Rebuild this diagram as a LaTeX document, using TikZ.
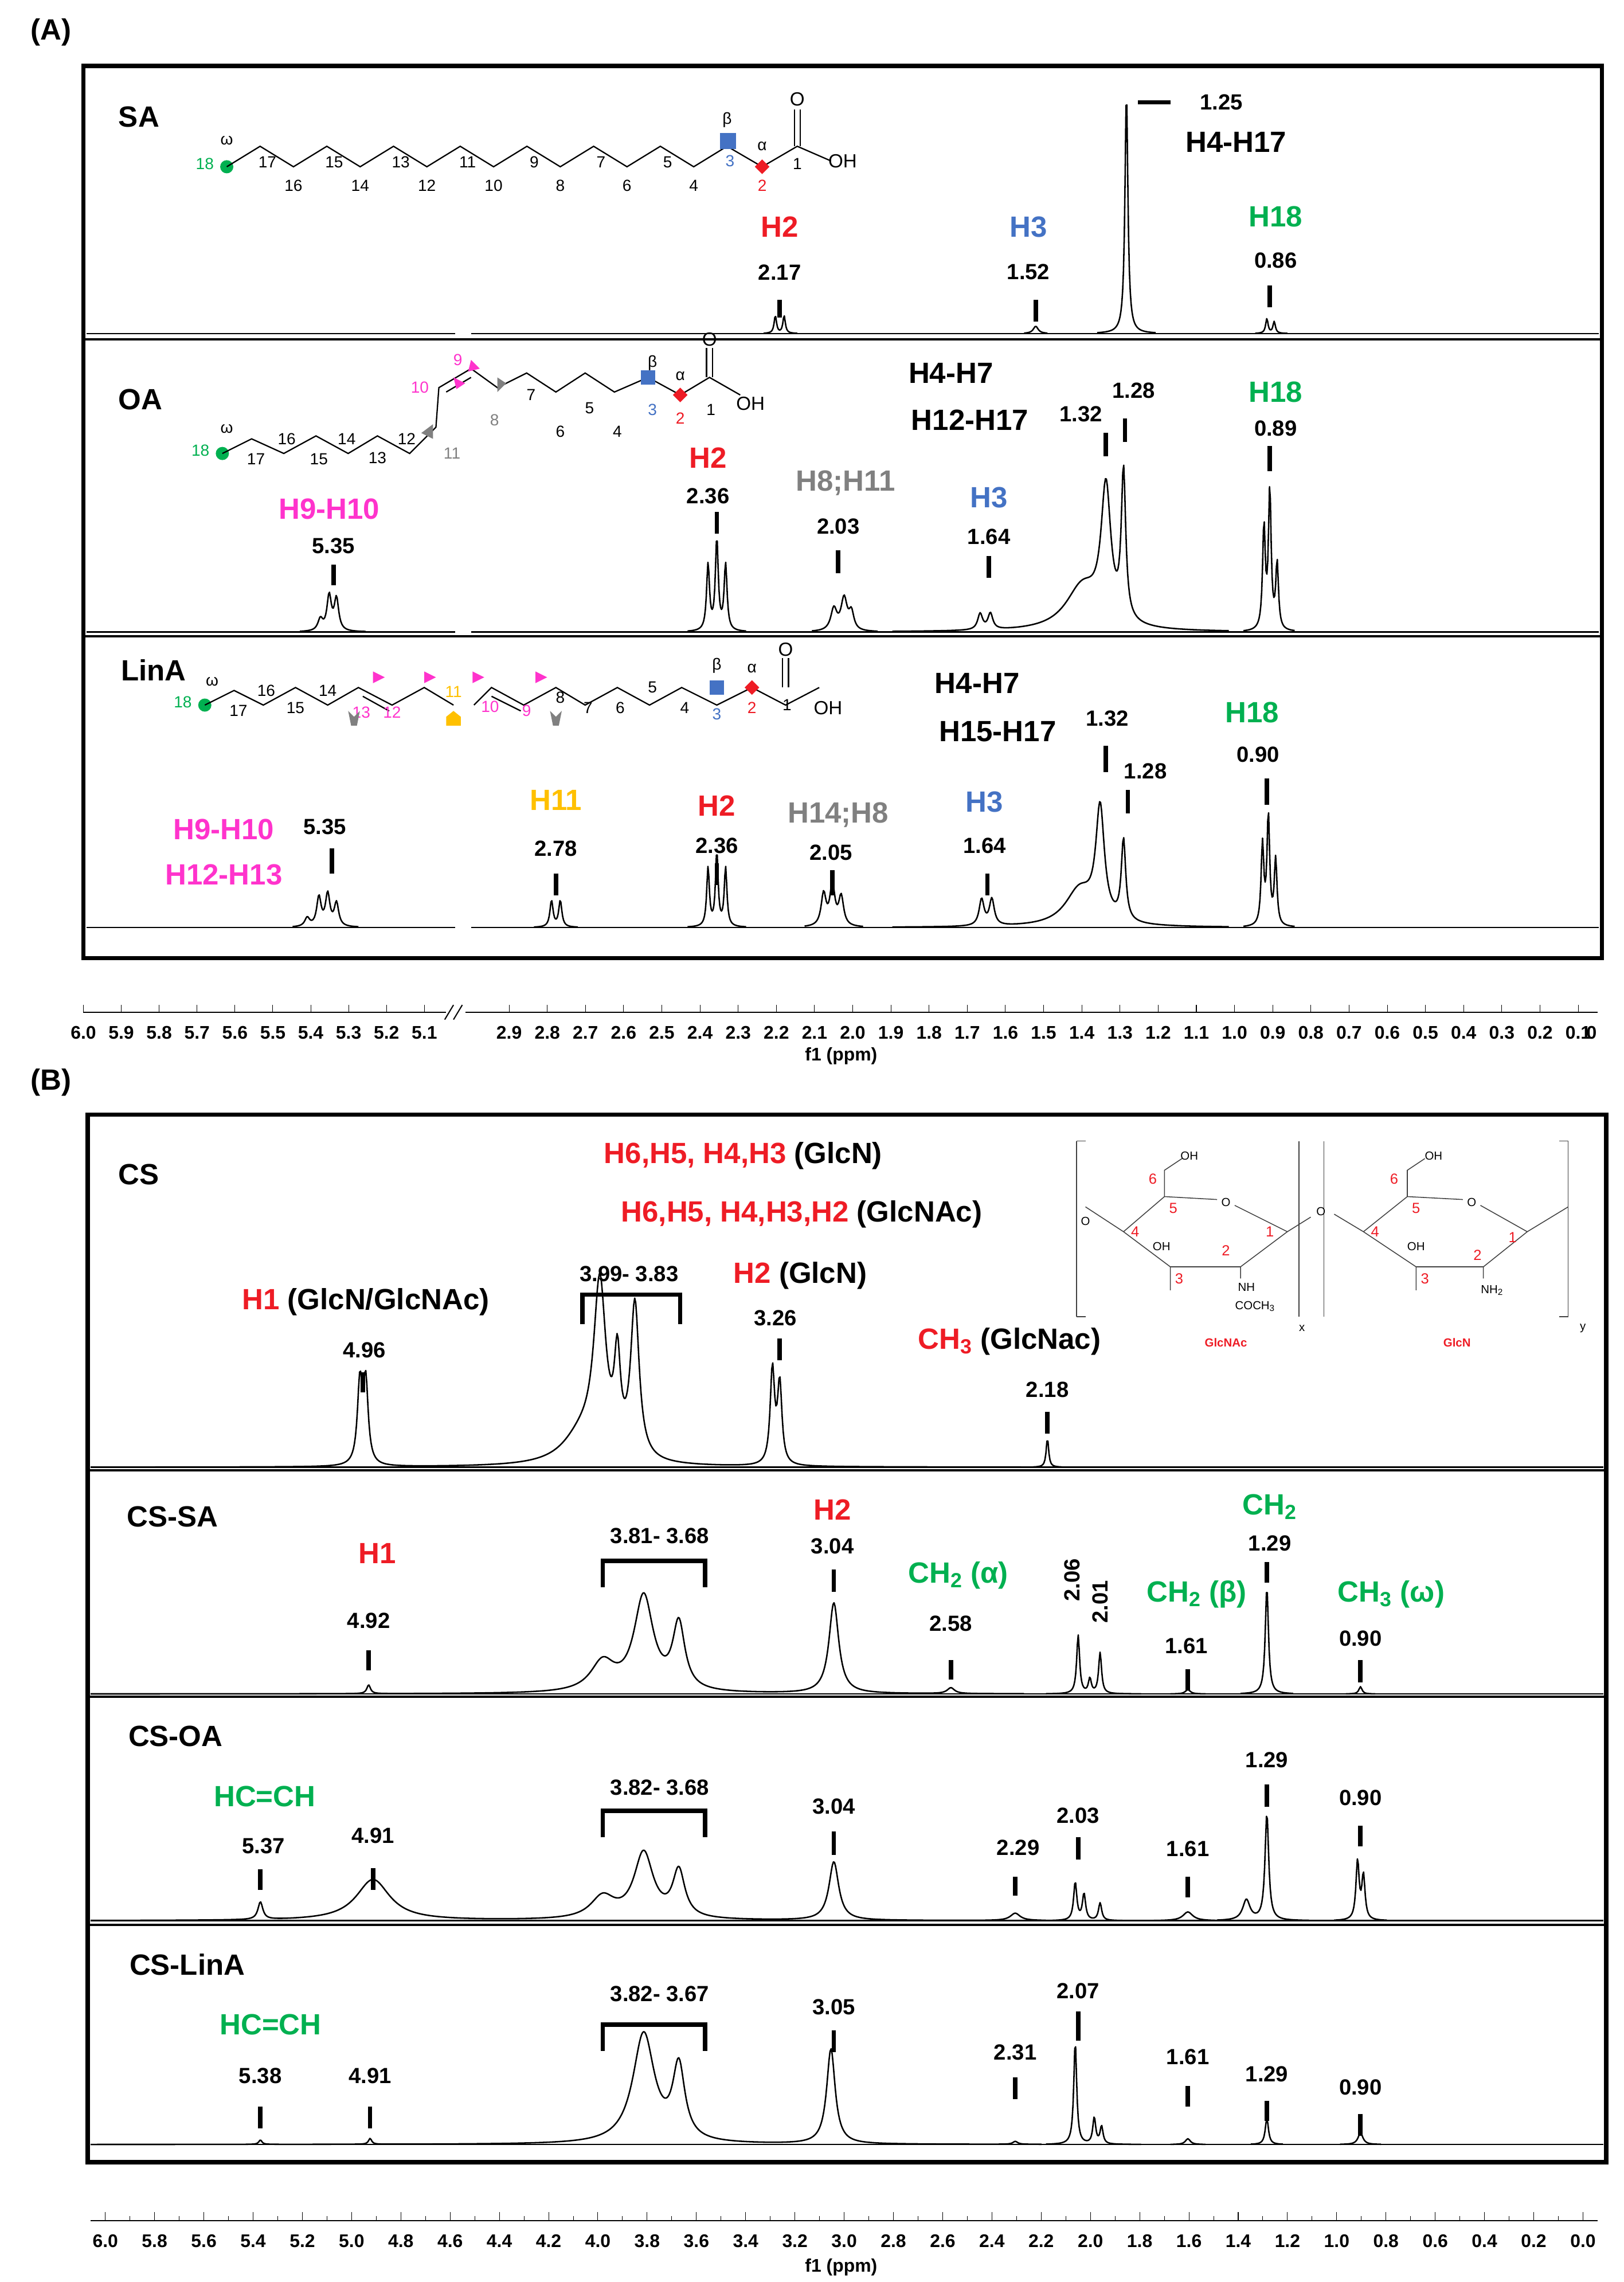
\documentclass[tikz,border=0pt]{standalone}
\usepackage{fontspec}
\setmainfont{Liberation Sans}
\definecolor{cR}{HTML}{EE1C25}
\definecolor{cB}{HTML}{4472C4}
\definecolor{cG}{HTML}{00B050}
\definecolor{cM}{HTML}{FF33CC}
\definecolor{cY}{HTML}{FFC000}
\definecolor{cK}{HTML}{808080}
\newcounter{nn}
\newcommand\T[3][]{\stepcounter{nn}\node[#1] (t\thenn) at (#2) {#3};}
\newcommand\tk[3]{\stepcounter{nn}\coordinate (a\thenn) at (#1,#2);\coordinate (b\thenn) at (#1,#3);\draw[tick] (a\thenn) -- (b\thenn);}
\newcommand\Lz[3]{-#3*(#2/10)*(#2/10)/((#2/10)*(#2/10)+((\x-#1)/10)*((\x-#1)/10))}
\newcommand\cl[4]{\draw[spec] plot[domain=#1:#2,samples=#3] (\x,{\bs #4});}
\begin{document}
\begin{tikzpicture}[x=1pt,y=-1pt,
 big/.style={font=\fontsize{20}{22}\selectfont\bfseries},
 num/.style={font=\fontsize{15}{17}\selectfont\bfseries},
 ax/.style={font=\fontsize{12.5}{14}\selectfont\bfseries},
 mol/.style={font=\fontsize{11}{12}\selectfont,inner sep=0.5pt},
 tick/.style={line width=3pt},
 spec/.style={line width=1pt,line join=round},
 box/.style={line width=3pt},
 chain/.style={line width=0.9pt}]
\useasboundingbox (0,0) rectangle (1110,1560);
% ---------- Panel A
\T[big]{35,22}{(A)}
\draw[box] (57,45) rectangle (1095,655);
\draw[line width=1.5pt] (57,232) -- (1095,232) (57,435) -- (1095,435);
% spectra A
\def\bs{228}
\draw[spec] (59,\bs) -- (311,\bs) (322,\bs) -- (1093,\bs);
\cl{750}{790}{70}{\Lz{770}{1.2}{165}}
\cl{522}{545}{40}{\Lz{530}{1}{12}\Lz{536}{1}{12}}
\cl{700}{716}{20}{\Lz{708}{2}{5}}
\cl{858}{880}{40}{\Lz{866}{1}{10}\Lz{871}{1}{8}}
\def\bs{432}
\draw[spec] (59,\bs) -- (311,\bs) (322,\bs) -- (1093,\bs);
\cl{205}{250}{70}{\Lz{219}{2}{8}\Lz{225}{1.8}{24}\Lz{230}{1.8}{22}}
\cl{470}{510}{70}{\Lz{484}{1.2}{45}\Lz{490}{1.2}{62}\Lz{496}{1.2}{45}}
\cl{555}{600}{70}{\Lz{570}{2.5}{15}\Lz{577}{2.5}{22}\Lz{582}{2}{12}}
\cl{610}{840}{350}{\Lz{670}{2}{11}\Lz{677}{2}{11}\Lz{740}{14}{30}\Lz{756}{4}{90}\Lz{768}{1.8}{100}}
\cl{850}{885}{60}{\Lz{864}{1.1}{70}\Lz{868}{1.1}{95}\Lz{873}{1.1}{45}}
\def\bs{634}
\draw[spec] (59,\bs) -- (311,\bs) (322,\bs) -- (1093,\bs);
\cl{200}{245}{70}{\Lz{210}{2}{6}\Lz{218}{1.8}{20}\Lz{224}{1.8}{22}\Lz{230}{1.8}{16}}
\cl{365}{395}{50}{\Lz{377}{1.3}{18}\Lz{383}{1.3}{18}}
\cl{470}{510}{70}{\Lz{484}{1.1}{40}\Lz{490}{1.1}{50}\Lz{496}{1.1}{40}}
\cl{550}{590}{60}{\Lz{563}{2}{22}\Lz{569}{2}{28}\Lz{575}{2}{20}}
\cl{610}{840}{350}{\Lz{671}{2}{18}\Lz{678}{2}{18}\Lz{738}{12}{25}\Lz{752}{3.5}{75}\Lz{768}{1.8}{55}}
\cl{850}{885}{60}{\Lz{863}{1.1}{55}\Lz{867}{1.1}{75}\Lz{872}{1.1}{45}}
% SA molecule
\fill[cG] (155,114) circle (4.5);
\T[mol,text=cG]{140,112}{18}
\T[mol]{155,96}{ω}
\draw[chain] (155,114) \foreach \i in {17,...,3}{ -- ({155+(18-\i)*22.8},{107+7*cos(180*\i)})} -- (521,114) -- (545,100) -- (568,110);
\draw[chain] (543,100) -- (543,75) (547,100) -- (547,75);
\T[mol,font=\fontsize{13}{14}\selectfont]{545,68}{O}
\T[mol,font=\fontsize{13}{14}\selectfont]{576,110}{OH}
\foreach \i in {17,15,...,5}{\T[mol]{{155+(18-\i)*22.8+5},111}{\i}}
\foreach \i in {16,14,...,4}{\T[mol]{{155+(18-\i)*22.8},127}{\i}}
\fill[cB] (492,91) rectangle (503,102);
\T[mol,text=cB]{499,110}{3}
\T[mol]{497,82}{β}
\fill[cR] (521,109) -- (526,114) -- (521,119) -- (516,114) -- cycle;
\T[mol,text=cR]{521,127}{2}
\T[mol]{521,100}{α}
\T[mol]{545,112}{1}
\T[big]{95,80}{SA}
\draw[line width=2.5pt] (778,70) -- (800,70);
\T[num]{835,70}{1.25}
\T[big]{845,97}{H4-H17}
\T[big,text=cR]{533,155}{H2}\T[num]{533,186}{2.17}\tk{533}{205}{217}
\T[big,text=cB]{703,155}{H3}\T[num]{703,186}{1.52}\tk{708}{205}{220}
\T[big,text=cG]{872,148}{H18}\T[num]{872,178}{0.86}\tk{868}{195}{210}
% OA molecule
\fill[cG] (152,310) circle (4.5);
\T[mol,text=cG]{137,308}{18}\T[mol]{155,293}{ω}
\draw[chain] (152,310) -- (172,300) -- (194,310) -- (216,298) -- (238,310) -- (258,298) -- (280,310) -- (298,292) -- (300,265) -- (322,252) -- (340,265) -- (360,255) -- (380,268) -- (400,255) -- (420,268) -- (443,258) -- (465,270) -- (485,258) -- (506,270);
\draw[chain] (305,268) -- (322,258);
\draw[chain] (483,258) -- (483,238) (487,258) -- (487,238);
\T[mol,font=\fontsize{13}{14}\selectfont]{485,232}{O}
\T[mol,font=\fontsize{13}{14}\selectfont]{513,276}{OH}
\T[mol]{175,314}{17}\T[mol]{196,300}{16}\T[mol]{218,314}{15}\T[mol]{237,300}{14}\T[mol]{258,313}{13}\T[mol]{278,300}{12}
\T[mol,text=cK]{309,310}{11}\T[mol,text=cM]{287,265}{10}\T[mol,text=cM]{313,246}{9}\T[mol,text=cK]{338,287}{8}
\T[mol]{363,270}{7}\T[mol]{383,295}{6}\T[mol]{403,279}{5}\T[mol]{422,295}{4}
\fill[cB] (438,253) rectangle (448,263);\T[mol,text=cB]{446,280}{3}\T[mol]{446,248}{β}
\fill[cR] (465,265) -- (470,270) -- (465,275) -- (460,270) -- cycle;\T[mol,text=cR]{465,286}{2}\T[mol]{465,257}{α}
\T[mol]{486,280}{1}
\fill[cM] (310,258) -- (318,262) -- (312,266) -- cycle;
\fill[cM] (322,246) -- (328,252) -- (320,254) -- cycle;
\fill[cK] (288,296) -- (296,290) -- (296,300) -- cycle;
\fill[cK] (340,258) -- (346,262) -- (340,268) -- cycle;
\T[big]{96,273}{OA}
\T[big]{650,255}{H4-H7}\T[big]{663,287}{H12-H17}
\T[num]{739,283}{1.32}\T[num]{775,267}{1.28}
\tk{756}{296}{312}\tk{769}{286}{302}
\T[big,text=cG]{872,268}{H18}\T[num]{872,293}{0.89}\tk{868}{305}{322}
\T[big,text=cM]{225,348}{H9-H10}\T[num]{228,373}{5.35}\tk{228}{386}{400}
\T[big,text=cR]{484,313}{H2}\T[num]{484,339}{2.36}\tk{490}{350}{365}
\T[big,text=cK]{578,330}{H8;H11}\T[num]{573,360}{2.03}\tk{573}{376}{392}
\T[big,text=cB]{676,340}{H3}\T[num]{676,367}{1.64}\tk{676}{380}{395}
% LinA molecule
\fill[cG] (140,482) circle (4.5);
\T[mol,text=cG]{125,480}{18}\T[mol]{145,466}{ω}
\draw[chain] (140,482) -- (160,472) -- (180,482) -- (202,470) -- (224,482) -- (245,470) -- (268,482) -- (290,470) -- (310,482);
\draw[chain] (324,482) -- (336,470) -- (358,482) -- (380,470) -- (400,482) -- (422,470) -- (444,482) -- (466,470) -- (490,482) -- (514,470) -- (537,482) -- (560,470);
\draw[chain] (248,476) -- (266,486) (336,476) -- (356,486);
\draw[chain] (535,470) -- (535,450) (539,470) -- (539,450);
\T[mol,font=\fontsize{13}{14}\selectfont]{537,444}{O}
\T[mol,font=\fontsize{13}{14}\selectfont]{566,484}{OH}
\T[mol]{163,486}{17}\T[mol]{182,472}{16}\T[mol]{202,484}{15}\T[mol]{224,472}{14}
\T[mol,text=cM]{247,487}{13}\T[mol,text=cM]{268,487}{12}\T[mol,text=cY]{310,473}{11}\T[mol,text=cM]{335,483}{10}\T[mol,text=cM]{360,486}{9}
\T[mol]{383,477}{8}\T[mol]{402,484}{7}\T[mol]{424,484}{6}\T[mol]{446,470}{5}\T[mol]{468,484}{4}
\fill[cB] (485,465) rectangle (495,475);\T[mol,text=cB]{490,488}{3}\T[mol]{490,455}{β}
\fill[cR] (514,465) -- (519,470) -- (514,475) -- (509,470) -- cycle;\T[mol,text=cR]{514,484}{2}\T[mol]{514,457}{α}
\T[mol]{538,482}{1}
\fill[cM] (255,459) -- (263,463) -- (255,467) -- cycle;
\fill[cM] (290,459) -- (298,463) -- (290,467) -- cycle;
\fill[cM] (323,459) -- (331,463) -- (323,467) -- cycle;
\fill[cM] (366,459) -- (374,463) -- (366,467) -- cycle;
\fill[cY] (305,490) -- (310,486) -- (315,490) -- (315,496) -- (305,496) -- cycle;
\fill[cK] (238,486) -- (242,490) -- (246,486) -- (244,496) -- (240,496) -- cycle;
\fill[cK] (376,486) -- (380,490) -- (384,486) -- (382,496) -- (378,496) -- cycle;
\T[big]{105,458}{LinA}
\T[big]{668,467}{H4-H7}\T[big]{682,500}{H15-H17}
\T[num]{757,491}{1.32}\T[num]{783,527}{1.28}
\tk{756}{510}{528}\tk{771}{540}{556}
\T[big,text=cG]{856,487}{H18}\T[num]{860,516}{0.90}\tk{866}{532}{550}
\T[big,text=cM]{153,567}{H9-H10}\T[big,text=cM]{153,598}{H12-H13}\T[num]{222,565}{5.35}\tk{227}{580}{597}
\T[big,text=cY]{380,547}{H11}\T[num]{380,580}{2.78}\tk{380}{597}{612}
\T[big,text=cR]{490,551}{H2}\T[num]{490,578}{2.36}\tk{490}{590}{605}
\T[big,text=cK]{573,557}{H14;H8}\T[num]{568,583}{2.05}\tk{569}{595}{612}
\T[big,text=cB]{673,548}{H3}\T[num]{673,578}{1.64}\tk{675}{597}{612}
% axis A
\draw[line width=0.8pt] (57,692) -- (305,692) (318,692) -- (1092,692);
\draw[line width=0.8pt] (304,697) -- (310,687) (310,697) -- (316,687);
\foreach \i/\l in {0/6.0,1/5.9,2/5.8,3/5.7,4/5.6,5/5.5,6/5.4,7/5.3,8/5.2,9/5.1}{\draw (57+\i*25.9,692) -- (57+\i*25.9,687);
 \node[ax] at (57+\i*25.9,706) {\l};}
\foreach \i/\l in {0/2.9,1/2.8,2/2.7,3/2.6,4/2.5,5/2.4,6/2.3,7/2.2,8/2.1,9/2.0,10/1.9,11/1.8,12/1.7,13/1.6,14/1.5,15/1.4,16/1.3,17/1.2,18/1.1,19/1.0,20/0.9,21/0.8,22/0.7,23/0.6,24/0.5,25/0.4,26/0.3,27/0.2,28/0.1}{\draw (348+\i*26.1,692) -- (348+\i*26.1,687);
 \node[ax] at (348+\i*26.1,706) {\l};}
\T[ax]{1088,706}{0}
\T[ax]{575,722}{f1 (ppm)}
% ---------- Panel B
\T[big]{35,740}{(B)}
\draw[box] (60,762) rectangle (1098,1478);
\draw[line width=1.5pt] (60,1005) -- (1098,1005) (60,1160) -- (1098,1160) (60,1316) -- (1098,1316);
\def\bs{1003}
\draw[spec] (62,\bs) -- (1096,\bs);
\cl{62}{700}{900}{\Lz{246}{2}{55}\Lz{250}{2}{55}\Lz{398}{16}{20}\Lz{410}{5}{115}\Lz{422}{2.5}{60}\Lz{434}{3.5}{105}\Lz{528}{1.8}{65}\Lz{533}{1.8}{55}}
\cl{706}{726}{30}{\Lz{716}{1}{20}}
\def\bs{1158}
\draw[spec] (62,\bs) -- (1096,\bs);
\cl{62}{700}{900}{\Lz{252}{1.5}{6}\Lz{412}{10}{20}\Lz{440}{8}{65}\Lz{464}{5}{45}\Lz{570}{4}{62}\Lz{650}{3}{4}}
\cl{715}{780}{110}{\Lz{737}{1.2}{40}\Lz{745}{1.2}{10}\Lz{752}{1.2}{28}}
\cl{800}{824}{25}{\Lz{812}{2}{3}}
\cl{848}{884}{60}{\Lz{866}{1.3}{73}}
\cl{920}{940}{25}{\Lz{930}{1.3}{5}}
\def\bs{1313}
\draw[spec] (62,\bs) -- (1096,\bs);
\cl{62}{715}{900}{\Lz{178}{2}{12}\Lz{255}{14}{28}\Lz{412}{10}{15}\Lz{440}{8}{45}\Lz{464}{5}{32}\Lz{570}{4}{40}\Lz{694}{4}{5}}
\cl{715}{780}{110}{\Lz{735}{1.3}{26}\Lz{741}{1.3}{18}\Lz{752}{1.3}{12}}
\cl{785}{838}{50}{\Lz{812}{4}{6}}
\cl{832}{895}{100}{\Lz{852}{3}{14}\Lz{866}{1.5}{73}}
\cl{912}{948}{60}{\Lz{928}{1.3}{40}\Lz{932}{1.3}{30}}
\def\bs{1466}
\draw[spec] (62,\bs) -- (1096,\bs);
\cl{62}{712}{900}{\Lz{178}{1.3}{3}\Lz{253}{1.3}{4}\Lz{440}{9}{75}\Lz{464}{5}{50}\Lz{568}{3.5}{65}\Lz{694}{2}{2}}
\cl{715}{780}{110}{\Lz{735}{1.2}{70}\Lz{748}{1.2}{18}\Lz{753}{1.2}{12}}
\cl{800}{824}{25}{\Lz{812}{2}{4}}
\cl{855}{877}{35}{\Lz{866}{1.3}{18}}
\cl{916}{944}{35}{\Lz{930}{2}{8}}
% CS
\T[big]{95,803}{CS}
\T[big]{508,790}{\textcolor{cR}{H6,H5, H4,H3} (GlcN)}
\T[big]{548,830}{\textcolor{cR}{H6,H5, H4,H3,H2} (GlcNAc)}
\T[big]{250,890}{\textcolor{cR}{H1} (GlcN/GlcNAc)}
\T[num]{430,871}{3.99- 3.83}
\stepcounter{nn}\coordinate (bl\thenn) at (398,905);\coordinate (br\thenn) at (465,905);
\draw[line width=3pt] (bl\thenn) -- ++(0,-20) -| (br\thenn);
\T[big]{547,872}{\textcolor{cR}{H2} (GlcN)}
\T[num]{530,901}{3.26}\tk{533}{915}{930}
\T[num]{249,923}{4.96}\tk{248}{938}{952}
\T[big]{690,917}{\textcolor{cR}{CH\textsubscript{3}} (GlcNac)}
\T[num]{716,950}{2.18}\tk{716}{965}{980}
% structure inset
\begin{scope}[line width=0.6pt,color=black!75]
\draw (736,780) -- (736,900) (888,780) -- (888,900) (905,780) -- (905,900) (1072,780) -- (1072,900);
\draw (736,780) -- (742,780) (736,900) -- (742,900) (1072,780) -- (1066,780) (1072,900) -- (1066,900);
\draw (768,842) -- (796,818) -- (832,820) (844,824) -- (880,842) -- (848,866) -- (800,866) -- (768,842) -- (742,825);
\draw (796,818) -- (796,800) -- (808,792);
\draw (800,866) -- (800,882) (848,866) -- (848,874) (880,842) -- (896,832);
\draw (932,842) -- (962,818) -- (1000,820) (1012,824) -- (1044,842) -- (1014,866) -- (968,866) -- (932,842) -- (912,830);
\draw (962,818) -- (962,800) -- (974,792);
\draw (968,866) -- (968,882) (1014,866) -- (1014,874) (1044,842) -- (1072,825);
\end{scope}
\begin{scope}[every node/.style={font=\fontsize{8}{9}\selectfont,inner sep=0.5pt}]
\node (s1) at (813,790) {OH};\node (s2) at (838,822) {O};\node (s3) at (794,852) {OH};\node (s4) at (852,880) {NH};\node (s5) at (858,893) {COCH\textsubscript{3}};
\node (s6) at (903,828) {O};\node (s7) at (742,835) {O};
\node (s8) at (980,790) {OH};\node (s9) at (1006,822) {O};\node (s10) at (968,852) {OH};\node (s11) at (1020,882) {NH\textsubscript{2}};
\node (s12) at (890,908) {x};\node (s13) at (1082,908) {y};
\node[text=cR,font=\fontsize{10}{11}\selectfont] (s14) at (788,806) {6};
\node[text=cR,font=\fontsize{10}{11}\selectfont] (s15) at (802,826) {5};
\node[text=cR,font=\fontsize{10}{11}\selectfont] (s16) at (776,842) {4};
\node[text=cR,font=\fontsize{10}{11}\selectfont] (s17) at (806,874) {3};
\node[text=cR,font=\fontsize{10}{11}\selectfont] (s18) at (838,855) {2};
\node[text=cR,font=\fontsize{10}{11}\selectfont] (s19) at (868,842) {1};
\node[text=cR,font=\fontsize{10}{11}\selectfont] (s20) at (953,806) {6};
\node[text=cR,font=\fontsize{10}{11}\selectfont] (s21) at (968,826) {5};
\node[text=cR,font=\fontsize{10}{11}\selectfont] (s22) at (940,842) {4};
\node[text=cR,font=\fontsize{10}{11}\selectfont] (s23) at (974,874) {3};
\node[text=cR,font=\fontsize{10}{11}\selectfont] (s24) at (1010,858) {2};
\node[text=cR,font=\fontsize{10}{11}\selectfont] (s25) at (1034,846) {1};
\node[text=cR,font=\fontsize{8}{9}\selectfont\bfseries] (s26) at (838,918) {GlcNAc};
\node[text=cR,font=\fontsize{8}{9}\selectfont\bfseries] (s27) at (996,918) {GlcN};
\end{scope}
% CS-SA
\T[big]{118,1037}{CS-SA}
\T[big,text=cR]{258,1062}{H1}\T[num]{252,1108}{4.92}\tk{252}{1128}{1142}
\T[num]{451,1050}{3.81- 3.68}
\stepcounter{nn}\coordinate (bl\thenn) at (412,1085);\coordinate (br\thenn) at (482,1085);
\draw[line width=3pt] (bl\thenn) -- ++(0,-18) -| (br\thenn);
\T[big,text=cR]{569,1032}{H2}\T[num]{569,1057}{3.04}\tk{570}{1073}{1088}
\T[big,text=cG]{655,1077}{CH\textsubscript{2} (α)}\T[num]{650,1110}{2.58}\tk{650}{1135}{1148}
\T[num,rotate=90]{733,1080}{2.06}\T[num,rotate=90]{752,1095}{2.01}
\T[big,text=cG]{818,1090}{CH\textsubscript{2} (β)}\T[num]{811,1125}{1.61}\tk{812}{1141}{1155}
\T[big,text=cG]{868,1030}{CH\textsubscript{2}}\T[num]{868,1055}{1.29}\tk{866}{1068}{1082}
\T[big,text=cG]{951,1090}{CH\textsubscript{3} (ω)}\T[num]{930,1120}{0.90}\tk{930}{1135}{1150}
% CS-OA
\T[big]{120,1187}{CS-OA}
\T[big,text=cG]{181,1228}{HC=CH}
\T[num]{180,1262}{5.37}\tk{178}{1278}{1292}
\T[num]{255,1255}{4.91}\tk{255}{1277}{1292}
\T[num]{451,1222}{3.82- 3.68}
\stepcounter{nn}\coordinate (bl\thenn) at (412,1256);\coordinate (br\thenn) at (482,1256);
\draw[line width=3pt] (bl\thenn) -- ++(0,-18) -| (br\thenn);
\T[num]{570,1235}{3.04}\tk{570}{1252}{1268}
\T[num]{696,1263}{2.29}\tk{694}{1283}{1296}
\T[num]{737,1241}{2.03}\tk{737}{1256}{1271}
\T[num]{812,1264}{1.61}\tk{812}{1283}{1297}
\T[num]{866,1203}{1.29}\tk{866}{1220}{1235}
\T[num]{930,1229}{0.90}\tk{930}{1248}{1262}
% CS-LinA
\T[big]{128,1343}{CS-LinA}
\T[big,text=cG]{185,1384}{HC=CH}
\T[num]{178,1419}{5.38}\tk{178}{1440}{1455}
\T[num]{253,1419}{4.91}\tk{253}{1440}{1455}
\T[num]{451,1363}{3.82- 3.67}
\stepcounter{nn}\coordinate (bl\thenn) at (412,1402);\coordinate (br\thenn) at (482,1402);
\draw[line width=3pt] (bl\thenn) -- ++(0,-18) -| (br\thenn);
\T[num]{570,1372}{3.05}\tk{570}{1388}{1403}
\T[num]{694,1403}{2.31}\tk{694}{1420}{1435}
\T[num]{737,1361}{2.07}\tk{737}{1375}{1395}
\T[num]{812,1406}{1.61}\tk{812}{1426}{1440}
\T[num]{866,1418}{1.29}\tk{866}{1436}{1450}
\T[num]{930,1427}{0.90}\tk{930}{1445}{1460}
% axis B
\draw[line width=0.8pt] (62,1518) -- (1092,1518);
\foreach \i/\l in {0/6.0,1/5.8,2/5.6,3/5.4,4/5.2,5/5.0,6/4.8,7/4.6,8/4.4,9/4.2,10/4.0,11/3.8,12/3.6,13/3.4,14/3.2,15/3.0,16/2.8,17/2.6,18/2.4,19/2.2,20/2.0,21/1.8,22/1.6,23/1.4,24/1.2,25/1.0,26/0.8,27/0.6,28/0.4,29/0.2,30/0.0}{\draw (72+\i*33.67,1518) -- (72+\i*33.67,1512);
 \node[ax] at (72+\i*33.67,1532) {\l};}
\foreach \i in {0,...,29}{\draw (88.83+\i*33.67,1518) -- (88.83+\i*33.67,1515);}
\T[ax]{575,1550}{f1 (ppm)}
\end{tikzpicture}
\end{document}
